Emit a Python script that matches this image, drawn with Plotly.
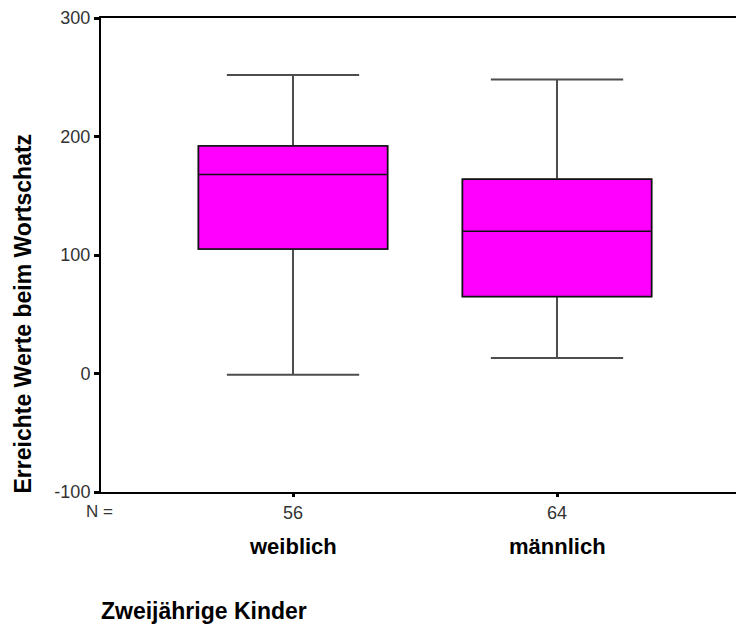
import plotly.graph_objects as go

# ---- data ----
groups = ["weiblich", "männlich"]
n_labels = ["56", "64"]
q1 = [105, 65]
median = [168, 120]
q3 = [192, 164]
lower_whisker = [-1, 13]
upper_whisker = [252, 248]
y_ticks = [-100, 0, 100, 200, 300]
y_tick_text = ["-100", "0", "100", "200", "300"]
y_title = "Erreichte Werte beim Wortschatz"
group_title = "Zweijährige Kinder"
n_prefix = "N ="

xpos = list(range(len(groups)))
FONT = "Liberation Sans, Arial, sans-serif"

fig = go.Figure()

# whiskers (gray)
fig.add_trace(go.Box(
    x=xpos, q1=q1, median=median, q3=q3,
    lowerfence=lower_whisker, upperfence=upper_whisker,
    width=0.716, whiskerwidth=0.70,
    fillcolor="#FF00FF", line=dict(color="#4d4d4d", width=2),
    boxpoints=False, showlegend=False, hoverinfo="skip",
))
# box outline + median (black)
fig.add_trace(go.Box(
    x=xpos, q1=q1, median=median, q3=q3,
    lowerfence=q1, upperfence=q3,
    width=0.716, whiskerwidth=0.0,
    fillcolor="#FF00FF", line=dict(color="#111111", width=1.5),
    boxpoints=False, showlegend=False, hoverinfo="skip",
))

W, H = 736, 628
L, R, T, B = 101, 0, 18, 136
pw, ph = W - L - R, H - T - B

def px_x(p):
    return (p - L) / pw

def px_y(p):
    return (H - B - p) / ph

fig.update_layout(
    width=W, height=H,
    margin=dict(l=L, r=R, t=T, b=B, pad=0),
    paper_bgcolor="white", plot_bgcolor="white",
    font=dict(family=FONT, size=18, color="#333333"),
    xaxis=dict(
        range=[-0.7273, 1.678], tickmode="array", tickvals=xpos, ticktext=n_labels,
        showgrid=False, zeroline=False, showline=True, mirror=True,
        linecolor="black", linewidth=2, ticks="outside", ticklen=3, tickwidth=3,
        tickcolor="black", tickfont=dict(size=18, color="#333333"),
    ),
    yaxis=dict(
        range=[-100, 300], tickmode="array", tickvals=y_ticks, ticktext=y_tick_text,
        showgrid=False, zeroline=False, showline=True, mirror=False,
        linecolor="black", linewidth=2, ticks="outside", ticklen=5, tickwidth=3,
        tickcolor="black", tickfont=dict(size=18, color="#333333"),
    ),
    boxgap=0, boxgroupgap=0, boxmode="overlay",
)

annotations = []
for i, g in enumerate(groups):
    annotations.append(dict(
        x=xpos[i], xref="x", y=px_y(546), yref="paper",
        text=g, showarrow=False, xanchor="center", yanchor="middle",
        font=dict(family=FONT, size=22, color="black", weight="bold"),
    ))
annotations.append(dict(
    x=px_x(99), xref="paper", y=px_y(512), yref="paper",
    text=n_prefix, showarrow=False, xanchor="center", yanchor="middle",
    font=dict(family=FONT, size=17, color="#333333"),
))
annotations.append(dict(
    x=px_x(99), xref="paper", y=px_y(611), yref="paper",
    text=group_title, showarrow=False, xanchor="left", yanchor="middle",
    font=dict(family=FONT, size=23, color="black", weight="bold"),
))
annotations.append(dict(
    x=px_x(22.5), xref="paper", y=px_y(314), yref="paper",
    text=y_title, showarrow=False, xanchor="center", yanchor="middle",
    textangle=-90,
    font=dict(family=FONT, size=23, color="black", weight="bold"),
))
fig.update_layout(annotations=annotations)

fig.write_html("out.html")
